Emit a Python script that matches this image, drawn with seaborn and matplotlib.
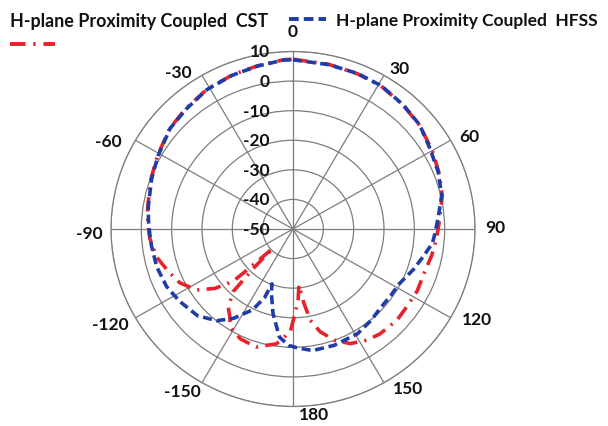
import numpy as np
import pandas as pd
import matplotlib
matplotlib.use("Agg")
import matplotlib.pyplot as plt
from matplotlib.lines import Line2D
from matplotlib.transforms import offset_copy
import seaborn as sns

# ---------------- data (angle in degrees clockwise from top, gain in dB) ----------------
hfss_angle = [0, 12, 22, 31, 41, 50, 59, 68, 77, 85, 92, 96, 102, 109, 118, 125, 133, 140,
              149, 161, 171, 178, 182, 187, 193, 198, 200.5, 202, 206, 213, 219, 227, 237,
              245, 254, 263, 267, 273, 279, 290, 299, 310, 319, 329, 339, 348, 357, 360]
hfss_db = [7.2, 6.8, 6.7, 6.5, 5.5, 4.6, 2.7, 1.6, 0.3, -1.9, -3.2, -3.8, -6.0, -8.0, -10.4,
           -10.7, -10.7, -9.8, -8.7, -8.4, -8.4, -9.8, -10.6, -13.2, -20.7, -27.0, -30.2,
           -25.0, -19.6, -14.0, -10.1, -7.0, -5.3, -4.0, -3.3, -3.0, -2.8, -2.3, -1.7, -0.4,
           0.9, 2.9, 3.7, 5.0, 5.7, 6.3, 7.2, 7.2]

cst_angle = [0, 12, 22, 31, 41, 50, 60, 68, 77, 87, 94, 101, 110, 117, 125, 132, 141, 147,
             154, 160, 165.5, 169.5, 172, 174, 176, 179, 181.5, 188, 197, 205, 212, 215, 219,
             223, 224.5, 225.7, 226.7, 227.7, 228.2, 232, 237, 244, 251, 258, 266, 272, 279,
             290, 299, 310, 319, 329, 339, 348, 357, 360]
cst_db = [7.4, 6.9, 6.6, 6.4, 5.4, 4.5, 3.0, 1.8, 0.5, -1.7, -2.6, -3.4, -4.3, -4.0, -4.2,
          -3.9, -4.4, -5.2, -6.9, -10.0, -14.1, -18.6, -25.0, -31.0, -26.0, -20.8, -15.2,
          -10.8, -8.3, -9.0, -10.9, -13.7, -16.1, -21.1, -32.0, -40.7, -36.5, -28.1, -23.4,
          -17.4, -12.1, -8.5, -6.4, -4.1, -2.7, -2.1, -1.5, -0.2, 1.1, 3.0, 3.9, 5.1, 5.8,
          6.4, 7.3, 7.4]

theta_ticks = [0, 30, 60, 90, 120, 150, 180, 210, 240, 270, 300, 330]
theta_labels = ["0", "30", "60", "90", "120", "150", "180", "-150", "-120", "-90", "-60", "-30"]
r_ticks = [-50, -40, -30, -20, -10, 0, 10]
r_labels = ["-50", "-40", "-30", "-20", "-10", "0", "10"]

label_cst = "H-plane Proximity Coupled  CST"
label_hfss = "H-plane Proximity Coupled  HFSS"

blue = "#1f3da6"
red = "#e8222b"
grid_c = "#7d7d7d"
text_c = "#111111"

# label placement offsets (pixels, right / down) relative to the outer ring
theta_label_offsets = [(0, -20), (16, -7), (19, -4), (20, -2), (26, 1), (24, 5), (21, 8),
                       (-20, 8), (-25, 6), (-22, 4), (-27, 1), (-24, -3)]

# ---------------- figure ----------------
sns.set_theme(style="white")
plt.rcParams["font.family"] = ["Lato", "DejaVu Sans"]

W, H = 608, 427
fig = plt.figure(figsize=(W / 100, H / 100), dpi=100)
fig.patch.set_facecolor("white")

cx, cy, rx, ry = 293, 230, 182, 177.5
ax = fig.add_axes([(cx - rx) / W, 1 - (cy + ry) / H, 2 * rx / W, 2 * ry / H],
                  projection="polar")
ax.set_aspect("auto")
ax.set_facecolor("white")
ax.set_theta_zero_location("N")
ax.set_theta_direction(-1)
ax.set_rlim(-50, 10)

df_h = pd.DataFrame({"theta": np.deg2rad(hfss_angle), "db": hfss_db})
df_c = pd.DataFrame({"theta": np.deg2rad(cst_angle), "db": cst_db})

sns.lineplot(data=df_c, x="theta", y="db", ax=ax, sort=False, estimator=None,
             color=red, linewidth=2.6, linestyle=(0, (4.0, 2.0, 0.6, 2.0)), zorder=3)
sns.lineplot(data=df_h, x="theta", y="db", ax=ax, sort=False, estimator=None,
             color=blue, linewidth=2.6, linestyle=(0, (2.5, 1.3)), zorder=4)

ax.set_xlabel("")
ax.set_ylabel("")
ax.set_xticks(np.deg2rad(theta_ticks))
ax.set_xticklabels([])
ax.set_yticks(r_ticks)
ax.set_yticklabels([])
ax.set_rlim(-50, 10)
ax.grid(True, color=grid_c, linewidth=0.9)
ax.spines["polar"].set_color(grid_c)
ax.spines["polar"].set_linewidth(0.9)

for t, lab, (dx, dy) in zip(theta_ticks, theta_labels, theta_label_offsets):
    tr = offset_copy(ax.transData, fig=fig, x=dx, y=-dy, units="dots")
    ax.text(np.deg2rad(t), 10, lab, transform=tr, ha="center", va="center",
            fontsize=12.5, fontweight="bold", color=text_c, clip_on=False, zorder=6)

trans = offset_copy(ax.transData, fig=fig, x=-23, y=0, units="dots")
for r, lab in zip(r_ticks, r_labels):
    ax.text(0, r, lab, transform=trans, ha="right", va="center", fontsize=12.5,
            fontweight="bold", color=text_c, zorder=5, clip_on=False)

# legend (Excel-like layout)
fig.text(10 / W, 1 - 21 / H, label_cst, ha="left", va="center", fontsize=12.9,
         fontweight="bold", color=text_c)
fig.add_artist(Line2D([10 / W, 55 / W], [1 - 45 / H, 1 - 45 / H], transform=fig.transFigure,
                      color=red, linewidth=2.8, linestyle=(0, (4.0, 2.0, 0.6, 2.0))))
fig.add_artist(Line2D([289 / W, 326 / W], [1 - 20 / H, 1 - 20 / H], transform=fig.transFigure,
                      color=blue, linewidth=2.8, linestyle=(0, (2.5, 1.3))))
fig.text(336 / W, 1 - 21 / H, label_hfss, ha="left", va="center", fontsize=12.5,
         fontweight="bold", color=text_c)

fig.savefig("out.png", dpi=100, facecolor="white")
